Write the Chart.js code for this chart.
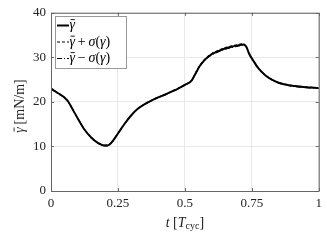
<!DOCTYPE html>
<html><head><meta charset="utf-8">
<script src="https://cdn.jsdelivr.net/npm/chart.js@4"></script>
<style>html,body{margin:0;padding:0;background:#fff}#c{display:block}</style>
</head><body>
<canvas id="c" width="327" height="245"></canvas>
<script>
const tVals   = [0, 0.025, 0.05, 0.064, 0.08, 0.1, 0.125, 0.15, 0.175, 0.2, 0.215, 0.225, 0.25, 0.275, 0.3, 0.325, 0.35, 0.375, 0.4, 0.425, 0.45, 0.475, 0.5, 0.525, 0.54, 0.555, 0.575, 0.6, 0.625, 0.65, 0.675, 0.7, 0.718, 0.73, 0.74, 0.755, 0.775, 0.8, 0.825, 0.85, 0.875, 0.9, 0.95, 1.0];
const meanVals  = [23.0, 22.0, 21.0, 20.1, 18.4, 16.3, 13.8, 12.0, 10.8, 10.2, 10.3, 10.8, 12.9, 15.1, 17.0, 18.5, 19.5, 20.3, 21.0, 21.6, 22.3, 23.0, 23.8, 24.8, 26.4, 28.0, 29.5, 30.7, 31.4, 32.0, 32.4, 32.7, 32.9, 32.3, 30.8, 29.3, 27.5, 26.0, 25.0, 24.3, 23.9, 23.6, 23.3, 23.1];
const upperVals = [23.1, 22.1, 21.1, 20.2, 18.5, 16.4, 13.9, 12.1, 10.9, 10.3, 10.4, 10.9, 13.0, 15.2, 17.1, 18.6, 19.6, 20.4, 21.1, 21.7, 22.4, 23.1, 23.9, 24.9, 26.6, 28.2, 29.7, 30.9, 31.6, 32.2, 32.6, 32.9, 33.1, 32.4, 30.9, 29.4, 27.6, 26.1, 25.1, 24.4, 24.0, 23.7, 23.4, 23.2];
const lowerVals = [22.9, 21.9, 20.9, 20.0, 18.3, 16.2, 13.7, 11.9, 10.7, 10.1, 10.2, 10.7, 12.8, 15.0, 16.9, 18.4, 19.4, 20.2, 20.9, 21.5, 22.2, 22.9, 23.7, 24.7, 26.2, 27.8, 29.3, 30.5, 31.2, 31.8, 32.2, 32.5, 32.7, 32.2, 30.7, 29.2, 27.4, 25.9, 24.9, 24.2, 23.8, 23.5, 23.2, 23.0];
const xTicks = [0, 0.25, 0.5, 0.75, 1];
const xTickLabels = ['0', '0.25', '0.5', '0.75', '1'];
const yTicks = [0, 10, 20, 30, 40];
const yTickLabels = ['0', '10', '20', '30', '40'];
// segments: [text, italic, scale, dy, bar]
const legendLabels = [
  [['γ', 1, 1, 0, 1]],
  [['γ', 1, 1, 0, 1], ['\u2009+\u2009', 0], ['σ', 1], ['(', 0], ['γ', 1], [')', 0]],
  [['γ', 1, 1, 0, 1], ['\u2009−\u2009', 0], ['σ', 1], ['(', 0], ['γ', 1], [')', 0]]
];

const SERIF = '"Liberation Serif", "DejaVu Serif", serif';
function pts(ys){ return tVals.map((t,i)=>({x:t, y:ys[i]})); }

function drawSegs(ctx, segs, x, y, size, align){
  let w = 0;
  const fonts = segs.map(s => (s[1] ? 'italic ' : '') + Math.round(size*(s[2]||1)) + 'px ' + SERIF);
  segs.forEach((s,i)=>{ ctx.font = fonts[i]; w += ctx.measureText(s[0]).width; });
  let cx = align === 'center' ? x - w/2 : x;
  ctx.textAlign = 'left';
  ctx.textBaseline = 'middle';
  segs.forEach((s,i)=>{
    ctx.font = fonts[i];
    const sw = ctx.measureText(s[0]).width;
    ctx.fillText(s[0], cx, y + (s[3]||0));
    if (s[4]) {
      ctx.save();
      ctx.strokeStyle = ctx.fillStyle; ctx.lineWidth = 0.9; ctx.setLineDash([]);
      const by = y - size*0.42;
      ctx.beginPath(); ctx.moveTo(cx + sw*0.2, by); ctx.lineTo(cx + sw*0.95, by); ctx.stroke();
      ctx.restore();
    }
    cx += sw;
  });
}

const decor = {
  id: 'decor',
  afterDraw(chart){
    const ctx = chart.ctx, a = chart.chartArea;
    const xs = chart.scales.x, ys = chart.scales.y;
    ctx.save();
    ctx.strokeStyle = '#666'; ctx.lineWidth = 1;
    ctx.beginPath();
    ctx.moveTo(a.left+0.5, a.bottom+0.5); ctx.lineTo(a.left+0.5, a.top+0.5);
    ctx.lineTo(a.right+0.5, a.top+0.5); ctx.lineTo(a.right+0.5, a.bottom+0.5);
    ctx.lineTo(a.left+0.5, a.bottom+0.5);
    ctx.stroke();
    ctx.beginPath();
    xTicks.forEach(v=>{ const px = Math.round(xs.getPixelForValue(v))+0.5;
      ctx.moveTo(px, a.bottom); ctx.lineTo(px, a.bottom-3);
      ctx.moveTo(px, a.top); ctx.lineTo(px, a.top+3); });
    yTicks.forEach(v=>{ const py = Math.round(ys.getPixelForValue(v))+0.5;
      ctx.moveTo(a.left, py); ctx.lineTo(a.left+3, py);
      ctx.moveTo(a.right, py); ctx.lineTo(a.right-3, py); });
    ctx.stroke();
    ctx.fillStyle = '#222';
    drawSegs(ctx, [['t',1],[' [',0],['T',1],['cyc',0,0.72,3],[']',0]], (a.left+a.right)/2, 223, 14, 'center');
    ctx.save();
    ctx.translate(20, 106);
    ctx.rotate(-Math.PI/2);
    drawSegs(ctx, [['γ',1,1,0,1],['\u2009[mN/m]',0]], 0, 0, 14, 'center');
    ctx.restore();
    const lx = 55, ly = 16, lw = 71, lh = 52;
    ctx.fillStyle = '#fff';
    ctx.fillRect(lx, ly, lw, lh);
    ctx.strokeStyle = '#999'; ctx.lineWidth = 1;
    ctx.strokeRect(lx+0.5, ly+0.5, lw, lh);
    const rows = [25.5, 42, 58.5];
    const ds = chart.data.datasets;
    rows.forEach((ry,i)=>{
      ctx.strokeStyle = '#000';
      ctx.lineWidth = ds[i].borderWidth;
      ctx.setLineDash(ds[i].borderDash || []);
      ctx.beginPath(); ctx.moveTo(57, ry); ctx.lineTo(69, ry); ctx.stroke();
      ctx.setLineDash([]);
      ctx.fillStyle = '#000';
      drawSegs(ctx, legendLabels[i], 69.5, ry, 14, 'left');
    });
    ctx.restore();
  }
};

new Chart(document.getElementById('c'), {
  type: 'line',
  data: {
    datasets: [
      { label: 'mean', data: pts(meanVals), borderColor: '#000', borderWidth: 2, pointRadius: 0, cubicInterpolationMode: 'monotone' },
      { label: 'upper', data: pts(upperVals), borderColor: '#000', borderWidth: 1, borderDash: [3,2], pointRadius: 0, cubicInterpolationMode: 'monotone' },
      { label: 'lower', data: pts(lowerVals), borderColor: '#000', borderWidth: 1, borderDash: [5,2,1,2], pointRadius: 0, cubicInterpolationMode: 'monotone' }
    ]
  },
  options: {
    responsive: false, animation: false,
    layout: { padding: { top: 11, right: 5, left: 0, bottom: 0 } },
    plugins: { legend: { display: false }, tooltip: { enabled: false } },
    scales: {
      x: {
        type: 'linear', min: 0, max: 1,
        afterBuildTicks: s => { s.ticks = xTicks.map(v=>({value:v})); },
        afterFit: s => { s.height = 54; },
        ticks: { padding: 5, color: '#222', font: { family: SERIF, size: 13 },
                 callback: (v) => { const i = xTicks.indexOf(v); return i >= 0 ? xTickLabels[i] : ''; }, maxRotation: 0 },
        grid: { color: '#e8e8e8', drawTicks: false },
        border: { display: false }
      },
      y: {
        min: 0, max: 40,
        afterBuildTicks: s => { s.ticks = yTicks.map(v=>({value:v})); },
        afterFit: s => { s.width = 51; },
        ticks: { padding: 5, color: '#222', font: { family: SERIF, size: 13 },
                 callback: (v) => { const i = yTicks.indexOf(v); return i >= 0 ? yTickLabels[i] : ''; } },
        grid: { color: '#e8e8e8', drawTicks: false },
        border: { display: false }
      }
    }
  },
  plugins: [decor]
});
</script>
</body></html>
